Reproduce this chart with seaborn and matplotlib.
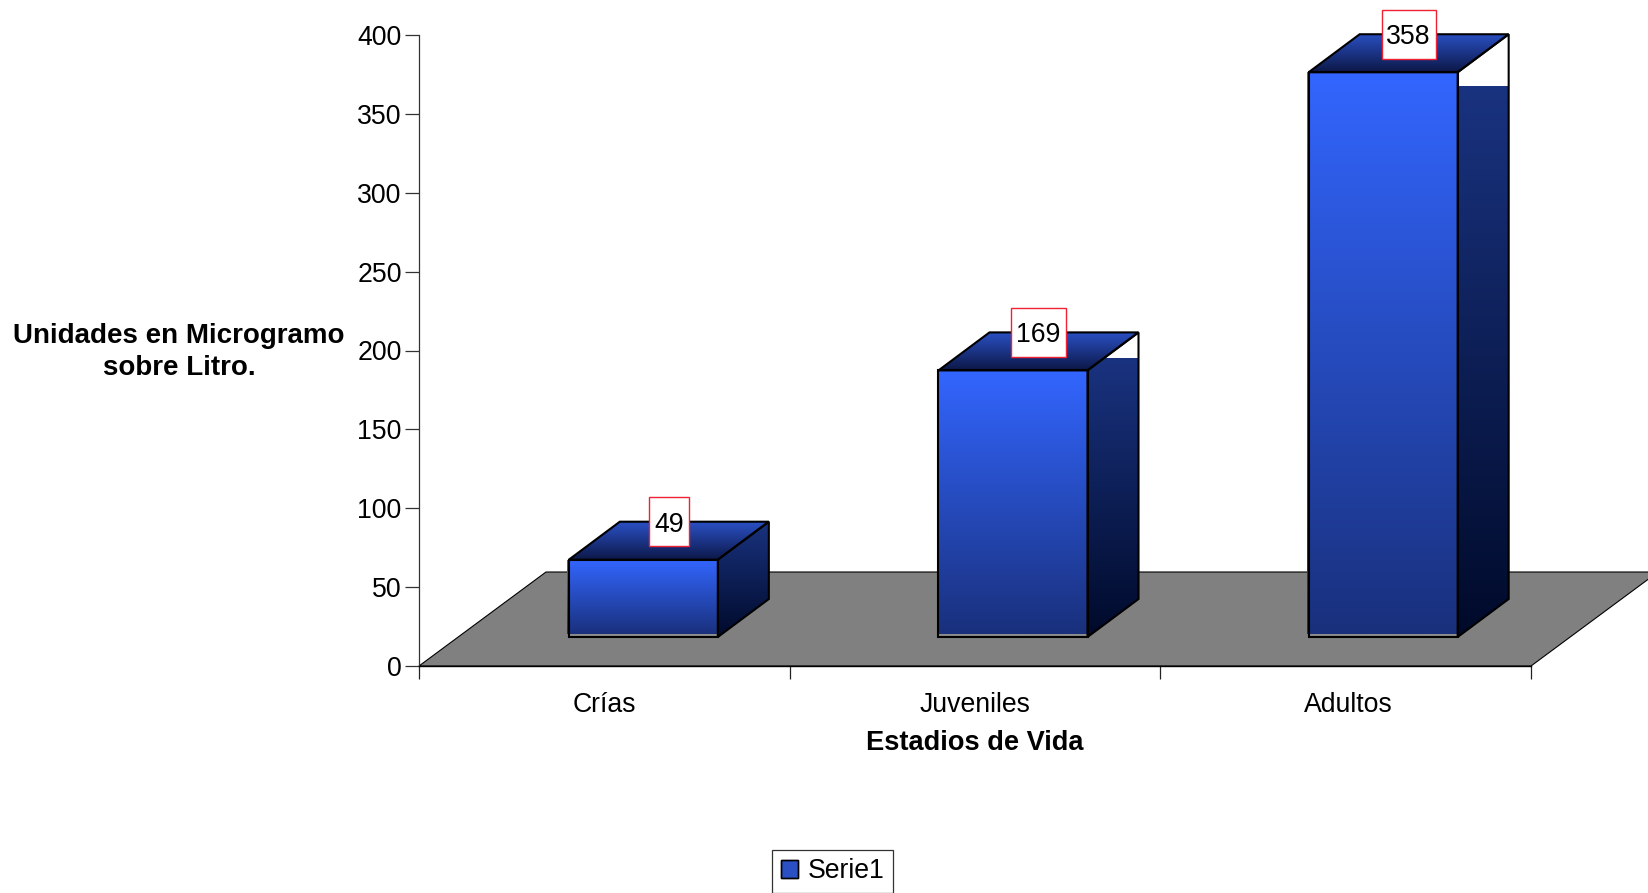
import numpy as np
import pandas as pd
import matplotlib
matplotlib.use("Agg")
import matplotlib.pyplot as plt
import seaborn as sns
from matplotlib.colors import to_rgb
from matplotlib.patches import Patch, Polygon, Rectangle
from matplotlib.transforms import Affine2D, IdentityTransform, ScaledTranslation

# Chart data
stages = ["Crías", "Juveniles", "Adultos"]
values = [49, 169, 358]
value_ticks = [0, 50, 100, 150, 200, 250, 300, 350, 400]
series_name = "Serie1"

W, H = 1648, 893
sns.set_theme(style="white")
plt.rcParams["font.family"] = ["Liberation Sans", "DejaVu Sans"]

FS = 19.2
FLOOR_DX, FLOOR_DY = 127, 94      # floor depth, px
FRONT_DX, FRONT_DY = 39, 29       # front face offset from the axis plane, px
BAR_DX, BAR_DY = 51, 38           # bar depth, px
BAR_NUDGE = [0, -1, -1.5]         # fine horizontal placement of each bar, px
SIDE_FILL_DROP = [-38, -12, 14]   # where the side shading starts, relative to the front top, px
EDGE_LW = 1.5


def gradient(ax, x0, x1, y_top, y_bot, c_top, c_bot, clip, zorder):
    """Vertical colour ramp in pixel space, clipped to a polygon."""
    t = np.linspace(0, 1, 256)[:, None, None]
    arr = (1 - t) * np.array(to_rgb(c_top))[None, None, :] + t * np.array(to_rgb(c_bot))[None, None, :]
    arr = np.repeat(arr, 2, axis=1)
    im = ax.imshow(arr, extent=(x0, x1, y_bot, y_top), origin="upper", aspect="auto",
                   interpolation="bilinear", transform=IdentityTransform(), zorder=zorder)
    poly = Polygon(clip, closed=True, transform=IdentityTransform())
    im.set_clip_path(poly)
    return im


fig = plt.figure(figsize=(W / 100, H / 100), dpi=100, facecolor="white")
ax = fig.add_axes([419 / W, (H - 666) / H, 1112 / W, 631 / H])

df = pd.DataFrame({"stage": stages, "value": values})
sns.barplot(data=df, x="stage", y="value", ax=ax, width=0.402, saturation=1, color="#3366ff", zorder=6)

ax.set_xlim(-0.5, 2.5)
ax.set_ylim(0, 400)
ax.set_yticks(value_ticks)
ax.set_xticks([0, 1, 2])
ax.set_xticks([-0.5, 0.5, 1.5, 2.5], minor=True)
ax.tick_params(axis="x", which="major", length=0, labelsize=FS, pad=18.5, colors="black")
ax.tick_params(axis="x", which="minor", length=9.5, width=0.9, color="#222222", bottom=True)
ax.tick_params(axis="y", length=10, width=0.9, color="#333333", labelsize=FS, pad=2.5, left=True, labelcolor="black")
# The last category label sits slightly right of its slot
adult_label = ax.get_xticklabels()[2]
adult_label.set_transform(adult_label.get_transform() + ScaledTranslation(3 / 100, 0, fig.dpi_scale_trans))
for side in ("top", "right"):
    ax.spines[side].set_visible(False)
ax.spines["left"].set_color("#333333")
ax.spines["left"].set_linewidth(0.9)
ax.spines["bottom"].set_color("black")
ax.spines["bottom"].set_linewidth(1.0)

ax.set_xlabel("Estadios de Vida", fontsize=19.6, fontweight="bold", labelpad=0, color="black")
ax.xaxis.set_label_coords(975, 893 - 743, transform=IdentityTransform())
ax.xaxis.label.set_va("center")
ax.set_ylabel("Unidades en Microgramo\nsobre Litro.", fontsize=20, fontweight="bold", rotation=0,
              ha="center", va="center", linespacing=1.27, color="black")
ax.yaxis.set_label_coords(179, 893 - 352, transform=IdentityTransform())

to_px = ax.transData.transform

# Floor of the 3D scene
x_l, y0 = to_px((-0.5, 0))
x_r, _ = to_px((2.5, 0))
ax.add_patch(Polygon([(x_l, y0), (x_l + FLOOR_DX, y0 + FLOOR_DY), (x_r + FLOOR_DX, y0 + FLOOR_DY), (x_r, y0)],
                     closed=True, facecolor="#808080", edgecolor="black", linewidth=0.8,
                     transform=IdentityTransform(), clip_on=False, zorder=0.5))

for i, (bar, val) in enumerate(zip(ax.patches, values)):
    # Move the seaborn bar onto its place on the floor
    dx = FRONT_DX + BAR_NUDGE[i]
    bar.set_transform(ax.transData + Affine2D().translate(dx, FRONT_DY))
    bar.set_facecolor("none")
    bar.set_edgecolor("black")
    bar.set_linewidth(EDGE_LW)
    bar.set_clip_on(False)
    bar.set_zorder(6)

    x0, yb = to_px((bar.get_x(), 0))
    x1, yt = to_px((bar.get_x() + bar.get_width(), val))
    x0, x1 = x0 + dx, x1 + dx
    yb, yt = yb + FRONT_DY, yt + FRONT_DY

    # Front face
    gradient(ax, x0 - 1.5, x1, yt, yb + 3, "#3366ff", "#19307c",
             [(x0 - 1.5, yt), (x1, yt), (x1, yb + 3), (x0 - 1.5, yb + 3)], 3)
    ax.add_patch(Rectangle((x0, yb), x1 - x0, 3, facecolor="#8c8c8c", edgecolor="none",
                           transform=IdentityTransform(), clip_on=False, zorder=2.8))

    # Right-hand side: white backing with shading from a fixed height down
    side = [(x1, yt), (x1 + BAR_DX, yt + BAR_DY), (x1 + BAR_DX, yb + BAR_DY), (x1, yb)]
    ax.add_patch(Polygon(side, closed=True, facecolor="white", edgecolor="none",
                         transform=IdentityTransform(), clip_on=False, zorder=2))
    gradient(ax, x1, x1 + BAR_DX, yt - SIDE_FILL_DROP[i], yb, "#1a3380", "#000a2a", side, 3)
    ax.add_patch(Polygon(side, closed=True, facecolor="none", edgecolor="black", linewidth=EDGE_LW,
                         joinstyle="miter", transform=IdentityTransform(), clip_on=False, zorder=5))

    # Top face
    top = [(x0, yt), (x0 + BAR_DX, yt + BAR_DY), (x1 + BAR_DX, yt + BAR_DY), (x1, yt)]
    gradient(ax, x0, x1 + BAR_DX, yt + BAR_DY, yt, "#2a50c4", "#0d1848", top, 3)
    ax.add_patch(Polygon(top, closed=True, facecolor="none", edgecolor="black", linewidth=EDGE_LW,
                         joinstyle="miter", transform=IdentityTransform(), clip_on=False, zorder=5))

    # Value label on the back edge of the top face
    label = str(val)
    cx = (x0 + x1) / 2 + BAR_DX / 2
    cy = yt + BAR_DY
    bw = 11 + 14.4 * len(label)
    ax.add_patch(Rectangle((cx - bw / 2, cy - 24.5), bw, 49, facecolor="white", edgecolor="#ee2233",
                           linewidth=1.0, transform=IdentityTransform(), clip_on=False, zorder=7))
    ax.text(cx, cy, label, fontsize=FS, ha="center", va="center_baseline", color="black",
            transform=IdentityTransform(), zorder=8)

# Legend
handle = Patch(facecolor="#2a50c4", edgecolor="black", linewidth=1.0)
legend = ax.legend([handle], [series_name], loc="center", bbox_to_anchor=(832.8, H - 871.5),
                   bbox_transform=IdentityTransform(), fontsize=FS, frameon=True, fancybox=False,
                   edgecolor="#333333", framealpha=1, handlelength=0.65, handleheight=0.65,
                   handletextpad=0.36, borderpad=0.33, borderaxespad=0, labelcolor="black")
legend.get_frame().set_linewidth(0.9)

fig.canvas.draw()
hb = legend.legend_handles[0].get_window_extent()
r = [(hb.x0, hb.y1), (hb.x1, hb.y1), (hb.x1, hb.y0), (hb.x0, hb.y0)]
key = gradient(ax, hb.x0, hb.x1, hb.y1, hb.y0, "#3366ff", "#101c60", r, 9)
ax.add_patch(Rectangle((hb.x0, hb.y0), hb.width, hb.height, facecolor="none", edgecolor="black",
                       linewidth=1.0, transform=IdentityTransform(), clip_on=False, zorder=10))

ax.set_xlim(-0.5, 2.5)
ax.set_ylim(0, 400)
fig.savefig("out.png", dpi=100)
